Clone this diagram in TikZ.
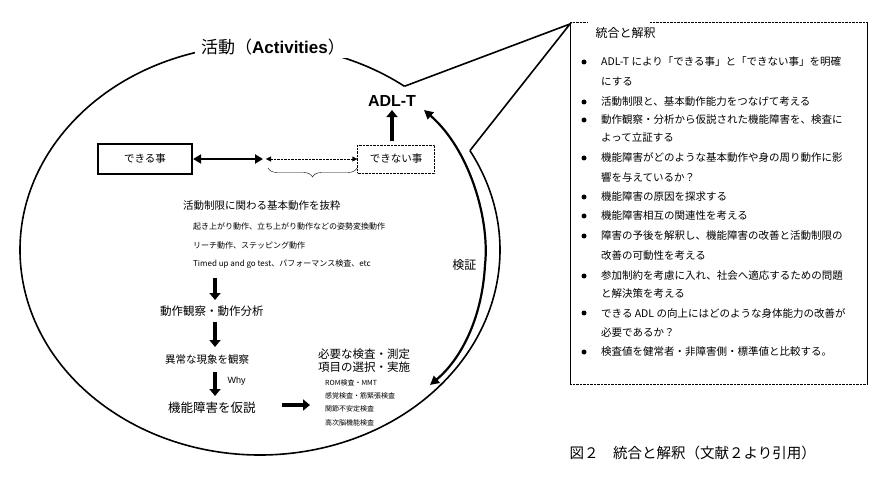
\documentclass[tikz,border=0pt]{standalone}
\usepackage{fontspec}
\setmainfont{Noto Sans CJK JP}
\newfontfamily\latn{Liberation Sans}
\usetikzlibrary{arrows.meta,decorations.pathreplacing,calc}
\begin{document}
\begin{tikzpicture}[x=1pt,y=-1pt,
  thk/.style={line width=2.2pt},
  bigarr/.style={line width=4pt,-{Triangle[length=7pt,width=11pt]}},
  itm/.style={anchor=west,font=\fontsize{8}{9}\selectfont,inner sep=0pt},
  rt/.style={anchor=west,font=\fontsize{10.5}{12}\selectfont,inner sep=0pt},
  bul/.style={circle,fill=black,inner sep=0pt,minimum size=5pt}]
\useasboundingbox (0,0) rectangle (891,478);
% ellipse with tail
\coordinate (ec) at (260,250);
\draw[line width=1.6pt] (ec) ++(-53:240 and 205) coordinate (t1) arc[start angle=-53,end angle=-389,x radius=240,y radius=205] coordinate (t2);
\coordinate (tip) at (570,24);
\draw[line width=1.6pt] (t1) -- (tip) -- (t2);
\node[fill=white,inner xsep=6pt,font=\fontsize{17}{20}\selectfont] (title) at (273,47) {活動（{\latn\bfseries Activities}）};
% ADL-T
\node[font=\latn\bfseries\fontsize{16}{18}\selectfont] (adl) at (392,101) {ADL-T};
\node[draw,line width=2.2pt,minimum width=94pt,minimum height=30pt,font=\fontsize{10.5}{12}\selectfont] (can) at (145,159) {できる事};
\node[draw,densely dotted,minimum width=77pt,minimum height=28pt,font=\fontsize{10.5}{12}\selectfont] (cant) at (396,159) {できない事};
\draw[bigarr,line width=3.5pt] (cant.north -| adl) ++(0,-4) -- (adl.south);
\coordinate (m) at (263,159);
\draw[line width=2.2pt,{Triangle[length=8pt,width=9pt]}-{Triangle[length=8pt,width=9pt]}] (can.east) -- (m);
\draw[densely dotted,{Triangle[length=5pt,width=5pt]}-{Triangle[length=5pt,width=5pt]}] ($(m)+(3,0)$) -- (cant.west);
\draw[decorate,decoration={brace,amplitude=9pt,mirror}] (268,168) -- (357,168);
\node[anchor=west,inner sep=0pt,font=\fontsize{10.5}{12}\selectfont] (extract) at (183,206) {活動制限に関わる基本動作を抜粋};
\node[itm] (i1) at (193,226) {起き上がり動作、立ち上がり動作などの姿勢変換動作};
\node[itm] (i2) at (193,245) {リーチ動作、ステッピング動作};
\node[itm] (i3) at (193,264) {Timed up and go test、パフォーマンス検査、etc};
\node[anchor=west,inner sep=0pt,font=\fontsize{11.5}{13}\selectfont] (obs) at (160,311) {動作観察・動作分析};
\node[anchor=west,inner sep=0pt,font=\fontsize{10.5}{12}\selectfont] (abn) at (165,360) {異常な現象を観察};
\node[anchor=west,inner sep=0pt,font=\fontsize{12.5}{14}\selectfont] (hyp) at (168,408) {機能障害を仮説};
\draw[bigarr] (215,278) -- (215,300);
\draw[bigarr] (215,322) -- (215,347);
\draw[bigarr] (215,372) -- (215,396);
\node[anchor=west,font=\latn\fontsize{9}{10}\selectfont] (why) at (224,381) {Why};
\node[anchor=west,inner sep=0pt,font=\fontsize{11.5}{13}\selectfont,align=left] (need) at (318,361) {必要な検査・測定\\項目の選択・実施};
\coordinate (ha) at (282,405);
\coordinate (hb) at (310,405);
\draw[line width=4pt,-{Triangle[length=7pt,width=11pt]}] (ha) -- (hb);
\node[anchor=west,inner sep=0pt,font=\fontsize{7}{8}\selectfont] (e1) at (325,383) {ROM検査・MMT};
\node[anchor=west,inner sep=0pt,font=\fontsize{7}{8}\selectfont] (e2) at (325,396) {感覚検査・筋緊張検査};
\node[anchor=west,inner sep=0pt,font=\fontsize{7}{8}\selectfont] (e3) at (325,409) {関節不安定検査};
\node[anchor=west,inner sep=0pt,font=\fontsize{7}{8}\selectfont] (e4) at (325,423) {高次脳機能検査};
% verification curve
\coordinate (vmid) at (485,265);
\draw[line width=2.2pt,{Triangle[length=9pt,width=9pt]}-{Triangle[length=9pt,width=9pt]}] (424,110) .. controls (470,150) and (490,220) .. (vmid) .. controls (482,320) and (460,360) .. (430,385);
\node[anchor=east,font=\fontsize{12}{14}\selectfont] (ver) at (480,265) {検証};
% right box
\draw[densely dotted] (570,384) -- (867,384);
\draw (570,24) -- (570,384) (867,22) -- (867,384);
\draw[densely dotted] (570,22) -- (588,22) (650,22) -- (867,22);
\node[anchor=west,font=\fontsize{12}{14}\selectfont] (rtitle) at (592,33) {統合と解釈};
\foreach \y/\t in {62/ADL-T により「できる事」と「できない事」を明確,82/にする,102/活動制限と、基本動作能力をつなげて考える,120/動作観察・分析から仮説された機能障害を、検査に,138/よって立証する,158/機能障害がどのような基本動作や身の周り動作に影,178/響を与えているか？,197/機能障害の原因を探求する,216/機能障害相互の関連性を考える,236/障害の予後を解釈し、機能障害の改善と活動制限の,256/改善の可動性を考える,276/参加制約を考慮に入れ、社会へ適応するための問題,294/と解決策を考える,313/できる ADL の向上にはどのような身体能力の改善が,333/必要であるか？,352/検査値を健常者・非障害側・標準値と比較する。}
  \node[rt] at (601,\y) {\t};
\foreach \y in {62,102,120,158,197,216,236,276,313,352}
  \node[bul] at (584,\y) {};
\node[anchor=west,font=\fontsize{14.5}{16}\selectfont] (cap) at (566,453) {図２　統合と解釈（文献２より引用）};
\end{tikzpicture}
\end{document}
